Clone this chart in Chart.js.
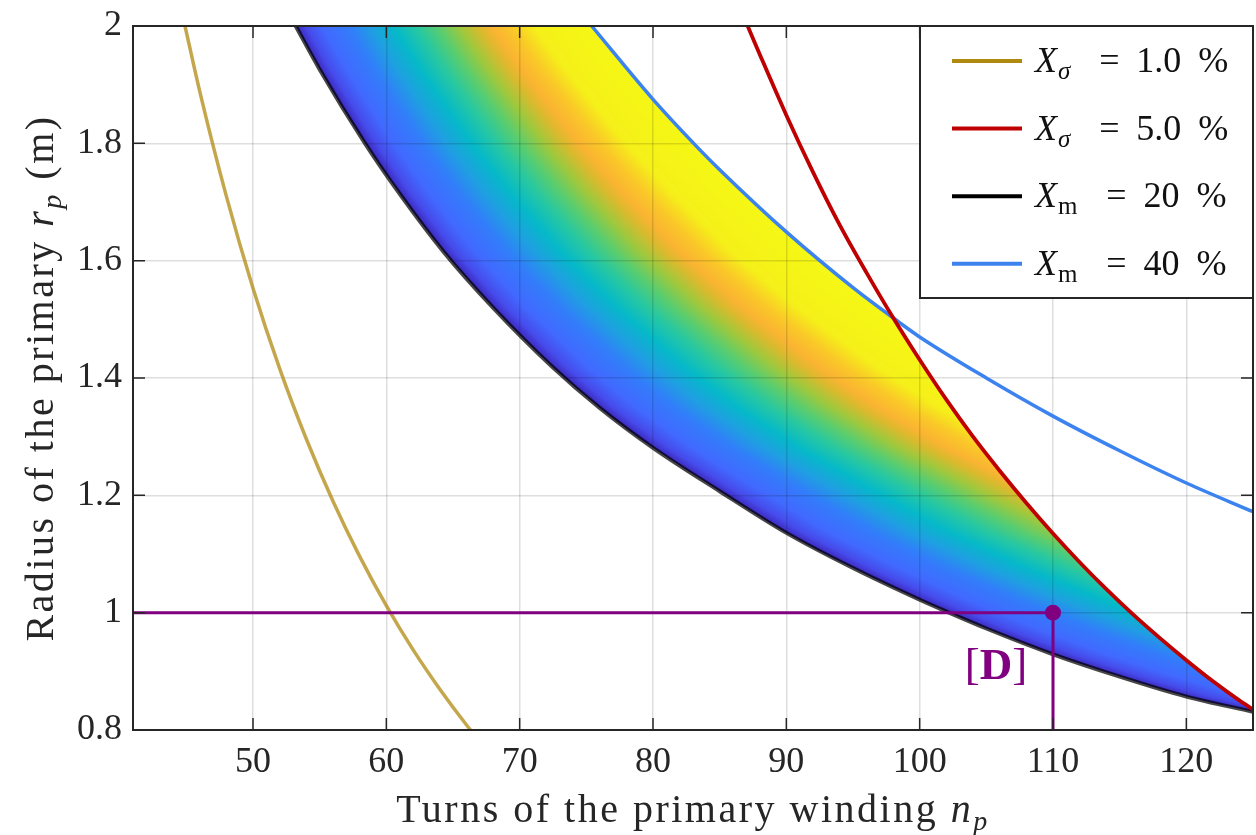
<!DOCTYPE html>
<html>
<head>
<meta charset="utf-8">
<title>Primary winding design space</title>
<script src="https://cdn.jsdelivr.net/npm/chart.js@4.4.1/dist/chart.umd.min.js"></script>
<style>
  html, body { margin: 0; padding: 0; background: #fff; }
  #wrap { width: 1256px; height: 835px; }
</style>
</head>
<body>
<div id="wrap"><canvas id="designChart" width="1256" height="835"></canvas></div>
<script>
// axis ranges and ticks
const xMin = 41, xMax = 125;
const yMin = 0.8, yMax = 2;
const xTicks = [50, 60, 70, 80, 90, 100, 110, 120];
const yTicks = [0.8, 1, 1.2, 1.4, 1.6, 1.8, 2];
const yTickLabels = ['0.8', '1', '1.2', '1.4', '1.6', '1.8', '2'];

// leakage reactance 1.0 %
const leak1N = [44.9, 46, 48, 50, 52, 54, 56, 58, 60, 62, 64, 66, 67];
const leak1R = [2.0, 1.889, 1.710, 1.553, 1.416, 1.296, 1.190, 1.096, 1.012, 0.937, 0.870, 0.809, 0.781];

// leakage reactance 5.0 %
const leak5N = [87.1, 88, 90, 92, 94, 96, 98, 100, 102, 104, 106, 108, 110, 112, 114, 116, 118, 120, 122, 124, 125];
const leak5R = [2.0, 1.952, 1.848, 1.751, 1.661, 1.580, 1.503, 1.431, 1.363, 1.300, 1.242, 1.187, 1.135, 1.086, 1.040, 0.997, 0.957, 0.919, 0.883, 0.850, 0.835];

// magnetising reactance 20 %
const mag20N = [53.2, 55, 58.4, 61, 64.3, 68, 72.4, 76, 80, 85, 90, 95, 100, 102, 105, 110, 115, 120, 125];
const mag20R = [2.0, 1.926, 1.8, 1.714, 1.615, 1.52, 1.42, 1.349, 1.281, 1.207, 1.136, 1.076, 1.022, 1.002, 0.973, 0.929, 0.891, 0.857, 0.831];

// magnetising reactance 40 %
const mag40N = [75.4, 80, 83.3, 85, 90, 95, 98.4, 100, 105, 110, 115, 120, 125];
const mag40R = [2.0, 1.875, 1.794, 1.755, 1.649, 1.554, 1.496, 1.470, 1.400, 1.335, 1.276, 1.221, 1.172];

// chosen design [D]
const designN = 110;
const designR = 1;

const serif = '"Liberation Serif", "Times New Roman", serif';
const purple = '#800080';

const toPoints = (ns, rs) => ns.map((n, i) => ({ x: n, y: rs[i] }));

// n on a curve for a given radius (curves fall monotonically)
function turnsAt(ns, rs, r) {
  let i = 0;
  while (i < rs.length - 2 && r < rs[i + 1]) i++;
  const f = (rs[i] - r) / (rs[i] - rs[i + 1]);
  return ns[i] + f * (ns[i + 1] - ns[i]);
}

// parula-like colour ramp used for the feasible band
const rampStops = [
  [0.00, 60, 40, 190],
  [0.04, 70, 75, 235],
  [0.10, 65, 105, 255],
  [0.20, 50, 125, 250],
  [0.28, 30, 160, 225],
  [0.36, 5, 185, 200],
  [0.44, 40, 200, 160],
  [0.51, 90, 205, 110],
  [0.58, 160, 200, 60],
  [0.64, 220, 185, 45],
  [0.68, 250, 180, 50],
  [0.74, 250, 200, 40],
  [0.81, 245, 240, 25],
  [1.00, 245, 248, 20],
];
const rampLut = (() => {
  const lut = new Uint8ClampedArray(1024 * 3);
  for (let k = 0; k < 1024; k++) {
    const t = k / 1023;
    let s = 0;
    while (s < rampStops.length - 2 && t > rampStops[s + 1][0]) s++;
    const a = rampStops[s], b = rampStops[s + 1];
    const f = Math.min(1, Math.max(0, (t - a[0]) / (b[0] - a[0])));
    for (let c = 0; c < 3; c++) lut[k * 3 + c] = a[c + 1] + f * (b[c + 1] - a[c + 1]);
  }
  return lut;
})();

// Xm 40 % sits about this factor further out in n than Xm 20 %
const magSpan = 1.43;

// trace a dataset's drawn (smoothed) line, then close it round the given corners
function curveRegion(chart, index, corners) {
  const { ctx, chartArea } = chart;
  const line = chart.getDatasetMeta(index).dataset;
  line.updateControlPoints(chartArea, 'x');
  ctx.beginPath();
  line.path(ctx);
  corners.forEach(c => ctx.lineTo(c[0], c[1]));
  ctx.closePath();
  ctx.clip();
}

const bandFill = {
  id: 'bandFill',
  beforeDraw(chart) {
    const { ctx, chartArea: a, scales: { x, y } } = chart;
    ctx.save();
    ctx.fillStyle = '#fff';
    ctx.fillRect(0, 0, chart.width, chart.height);

    const w = Math.ceil(a.right - a.left), h = Math.ceil(a.bottom - a.top);
    const off = document.createElement('canvas');
    off.width = w;
    off.height = h;
    const octx = off.getContext('2d');
    const img = octx.createImageData(w, h);
    const lnN = new Float32Array(w);
    for (let i = 0; i < w; i++) lnN[i] = Math.log(x.getValueForPixel(a.left + i + 0.5));
    const inv = 1 / Math.log(magSpan);
    for (let j = 0; j < h; j++) {
      const r = y.getValueForPixel(a.top + j + 0.5);
      const lnB = Math.log(turnsAt(mag20N, mag20R, r));
      for (let i = 0; i < w; i++) {
        let t = (lnN[i] - lnB) * inv;
        t = t < 0 ? 0 : t > 1 ? 1 : t;
        const k = Math.round(t * 1023) * 3;
        const p = (j * w + i) * 4;
        img.data[p] = rampLut[k];
        img.data[p + 1] = rampLut[k + 1];
        img.data[p + 2] = rampLut[k + 2];
        img.data[p + 3] = 255;
      }
    }
    octx.putImageData(img, 0, 0);

    // feasible band: above Xm 20 %, below Xm 40 % and below Xsigma 5 %
    const L = a.left - 20, R = a.right + 20, T = a.top - 20, B = a.bottom + 20;
    ctx.beginPath();
    ctx.rect(a.left, a.top, a.right - a.left, a.bottom - a.top);
    ctx.clip();
    const byLabel = lbl => chart.data.datasets.findIndex(ds => ds.label === lbl);
    const m20 = byLabel('Xm = 20 %'), m40 = byLabel('Xm = 40 %'), s5 = byLabel('Xσ = 5.0 %');
    curveRegion(chart, m20, [[R, y.getPixelForValue(mag20R[mag20R.length - 1])], [R, T], [x.getPixelForValue(mag20N[0]), T]]);
    curveRegion(chart, m40, [[R, B], [L, B], [L, T], [x.getPixelForValue(mag40N[0]), T]]);
    curveRegion(chart, s5, [[R, B], [L, B], [L, T], [x.getPixelForValue(leak5N[0]), T]]);
    ctx.drawImage(off, a.left, a.top);
    ctx.restore();
  },
};

// MATLAB-style box with inward ticks on all four sides
const axesBox = {
  id: 'axesBox',
  afterDatasetsDraw(chart) {
    const { ctx, chartArea: a, scales: { x, y } } = chart;
    ctx.save();
    ctx.strokeStyle = '#262626';
    ctx.lineWidth = 1.5;
    ctx.beginPath();
    xTicks.forEach(v => {
      const px = x.getPixelForValue(v);
      ctx.moveTo(px, a.bottom); ctx.lineTo(px, a.bottom - 12);
      ctx.moveTo(px, a.top); ctx.lineTo(px, a.top + 12);
    });
    yTicks.forEach(v => {
      const py = y.getPixelForValue(v);
      ctx.moveTo(a.left, py); ctx.lineTo(a.left + 12, py);
      ctx.moveTo(a.right, py); ctx.lineTo(a.right - 12, py);
    });
    ctx.stroke();
    ctx.lineWidth = 2;
    ctx.strokeRect(a.left, a.top, a.right - a.left, a.bottom - a.top);

    // [D] tag under the design point
    const dx = x.getPixelForValue(designN) - 57;
    const dy = y.getPixelForValue(designR) + 66;
    ctx.fillStyle = purple;
    ctx.textBaseline = 'alphabetic';
    const parts = [['[', 'normal'], ['D', 'bold'], [']', 'normal']];
    let total = 0;
    parts.forEach(p => { ctx.font = `${p[1]} 45px ${serif}`; p.push(ctx.measureText(p[0]).width); total += p[2]; });
    let cx = dx - total / 2;
    parts.forEach(p => { ctx.font = `${p[1]} 45px ${serif}`; ctx.fillText(p[0], cx, dy); cx += p[2]; });
    ctx.restore();
  },
};

function drawRich(ctx, parts, cx, baseY, spacing) {
  let total = 0;
  ctx.letterSpacing = spacing;
  parts.forEach(p => { ctx.font = p.font; p.w = ctx.measureText(p.text).width; total += p.w; });
  let px = cx - total / 2;
  parts.forEach(p => { ctx.font = p.font; ctx.fillText(p.text, px, baseY + (p.dy || 0)); px += p.w; });
  ctx.letterSpacing = '0px';
}

// axis titles and legend with sub-scripted symbols
const annotations = {
  id: 'annotations',
  afterDraw(chart) {
    const { ctx, chartArea: a } = chart;
    ctx.save();
    ctx.fillStyle = '#262626';
    ctx.textBaseline = 'alphabetic';
    const big = `40px ${serif}`, bigIt = `italic 40px ${serif}`, subIt = `italic 28px ${serif}`;
    drawRich(ctx, [
      { text: 'Turns of the primary winding ', font: big },
      { text: 'n', font: bigIt },
      { text: 'p', font: subIt, dy: 8 },
    ], (a.left + a.right) / 2, 822, '2.5px');

    ctx.save();
    ctx.translate(53, (a.top + a.bottom) / 2);
    ctx.rotate(-Math.PI / 2);
    drawRich(ctx, [
      { text: 'Radius of the primary ', font: big },
      { text: 'r', font: bigIt },
      { text: 'p', font: subIt, dy: 8 },
      { text: ' (m)', font: big },
    ], 0, 0, '2.5px');
    ctx.restore();

    // legend
    const lw = 333, lh = 272;
    const lx = a.right - lw, ly = a.top;
    ctx.fillStyle = '#fff';
    ctx.fillRect(lx, ly, lw, lh);
    ctx.strokeStyle = '#262626';
    ctx.lineWidth = 2;
    ctx.strokeRect(lx, ly, lw, lh);
    chart.data.datasets.filter(ds => ds.sub).forEach((ds, k) => {
      const yy = ly + 35 + k * 67.6;
      ctx.strokeStyle = ds.legendColor;
      ctx.lineWidth = 4;
      ctx.beginPath();
      ctx.moveTo(lx + 32, yy);
      ctx.lineTo(lx + 102, yy);
      ctx.stroke();

      ctx.fillStyle = '#111';
      const base = yy + 11;
      let tx = lx + 115;
      ctx.font = `italic 36px ${serif}`;
      ctx.fillText('X', tx, base);
      tx += ctx.measureText('X').width + 1;
      ctx.font = ds.sub === 'σ' ? `italic 25px ${serif}` : `25px ${serif}`;
      ctx.fillText(ds.sub, tx, base + 7);
      tx += ctx.measureText(ds.sub).width;
      ctx.font = `36px ${serif}`;
      ctx.textAlign = 'center';
      ctx.fillText('=', tx + 39, base);
      ctx.textAlign = 'left';
      tx += 66;
      ctx.fillText(ds.value, tx, base);
      tx += ctx.measureText(ds.value).width + 17;
      ctx.fillText('%', tx, base);
    });
    ctx.restore();
  },
};

const tickFont = { family: serif, size: 36 };

const lineStyle = {
  showLine: true,
  borderWidth: 3.5,
  pointRadius: 0,
  cubicInterpolationMode: 'monotone',
  clip: 0,
};

new Chart(document.getElementById('designChart'), {
  type: 'scatter',
  data: {
    datasets: [
      {
        label: 'Design D',
        data: [{ x: designN, y: designR }],
        pointRadius: 8,
        pointBackgroundColor: purple,
        pointBorderWidth: 0,
        showLine: false,
        clip: 0,
      },
      {
        label: 'Design D guides',
        data: [{ x: xMin, y: designR }, { x: designN, y: designR }, { x: designN, y: yMin }],
        showLine: true,
        borderColor: purple,
        borderWidth: 3,
        pointRadius: 0,
        clip: 0,
      },
      {
        ...lineStyle,
        label: 'Xσ = 1.0 %',
        sub: 'σ', value: '1.0', legendColor: '#B08A10',
        data: toPoints(leak1N, leak1R),
        borderColor: 'rgba(176, 138, 16, 0.75)',
      },
      {
        ...lineStyle,
        label: 'Xσ = 5.0 %',
        sub: 'σ', value: '5.0', legendColor: '#BF0000',
        data: toPoints(leak5N, leak5R),
        borderColor: '#BF0000',
        borderWidth: 3.8,
      },
      {
        ...lineStyle,
        label: 'Xm = 20 %',
        sub: 'm', value: '20', legendColor: '#000000',
        data: toPoints(mag20N, mag20R),
        borderColor: 'rgba(0, 0, 0, 0.72)',
        borderWidth: 4,
      },
      {
        ...lineStyle,
        label: 'Xm = 40 %',
        sub: 'm', value: '40', legendColor: '#3C83EF',
        data: toPoints(mag40N, mag40R),
        borderColor: '#3C83EF',
      },
    ],
  },
  options: {
    responsive: false,
    animation: false,
    events: [],
    layout: { autoPadding: false, padding: { top: 26, right: 3, left: 0, bottom: 0 } },
    elements: { line: { borderJoinStyle: 'round' } },
    plugins: {
      legend: { display: false },
      tooltip: { enabled: false },
    },
    scales: {
      x: {
        type: 'linear',
        min: xMin,
        max: xMax,
        afterBuildTicks: scale => { scale.ticks = xTicks.map(v => ({ value: v })); },
        afterFit: scale => {
          scale.height = 105;
          scale.paddingLeft = 0;
          scale.paddingRight = 0;
        },
        ticks: {
          font: tickFont,
          color: '#262626',
          padding: 11,
          maxRotation: 0,
          autoSkip: false,
          callback: v => String(v),
        },
        grid: { color: 'rgba(0, 0, 0, 0.13)', lineWidth: 1.5, drawTicks: false },
        border: { display: false },
      },
      y: {
        type: 'linear',
        min: yMin,
        max: yMax,
        afterBuildTicks: scale => { scale.ticks = yTicks.map(v => ({ value: v })); },
        afterFit: scale => {
          scale.width = 133;
          scale.paddingTop = 0;
          scale.paddingBottom = 0;
        },
        ticks: {
          font: tickFont,
          color: '#262626',
          padding: 11,
          autoSkip: false,
          callback: (v, i) => yTickLabels[i],
        },
        grid: { color: 'rgba(0, 0, 0, 0.13)', lineWidth: 1.5, drawTicks: false },
        border: { display: false },
      },
    },
  },
  plugins: [bandFill, axesBox, annotations],
});
</script>
</body>
</html>
